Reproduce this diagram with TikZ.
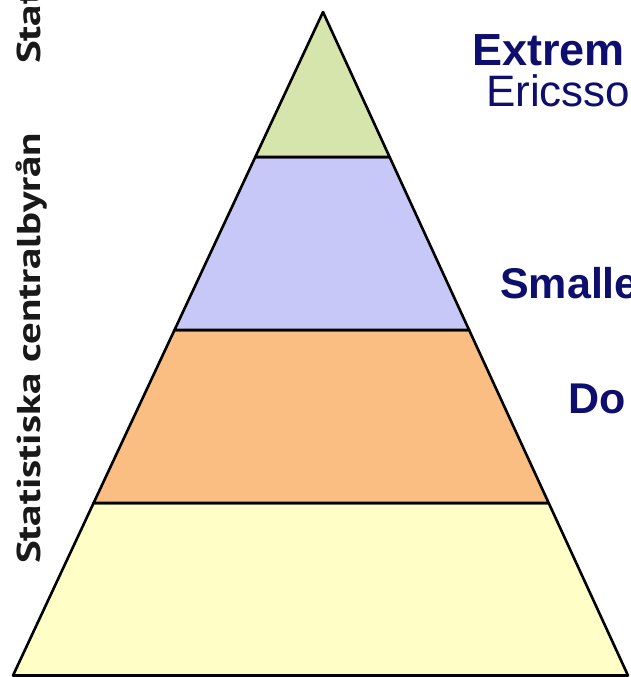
\documentclass[tikz,border=0pt]{standalone}
\usepackage{fontspec}
\setmainfont{Liberation Sans}
\newfontfamily\scbfont{PT Sans}
\definecolor{pyrgreen}{RGB}{214,229,171}
\definecolor{pyrpurple}{RGB}{200,200,248}
\definecolor{pyrorange}{RGB}{250,189,130}
\definecolor{pyryellow}{RGB}{254,254,198}
\definecolor{navytext}{RGB}{14,14,110}
\definecolor{scbgray}{RGB}{25,25,25}
\begin{document}
\begin{tikzpicture}[x=1pt,y=-1pt,
  layer/.style={draw=black,line width=2.6pt,line join=round},
  lab/.style={text=navytext,inner sep=0pt,anchor=base west},
  scb/.style={text=scbgray,inner sep=0pt,anchor=base west,rotate=90,font=\scbfont\bfseries\fontsize{33}{40}\selectfont}]
\clip (0,0) rectangle (630,677);
\fill[white] (0,0) rectangle (630,677);
\coordinate (apex) at (323,12);
\coordinate (l1) at (255.3,157); \coordinate (r1) at (389.6,157);
\coordinate (l2) at (174.5,330); \coordinate (r2) at (469.1,330);
\coordinate (l3) at (93.6,503);  \coordinate (r3) at (548.7,503);
\coordinate (l4) at (13,675.5);  \coordinate (r4) at (628,675.5);
\filldraw[layer,fill=pyryellow] (l3) -- (r3) -- (r4) -- (l4) -- cycle;
\filldraw[layer,fill=pyrorange] (l2) -- (r2) -- (r3) -- (l3) -- cycle;
\filldraw[layer,fill=pyrpurple] (l1) -- (r1) -- (r2) -- (l2) -- cycle;
\filldraw[layer,fill=pyrgreen] (apex) -- (r1) -- (l1) -- cycle;
\node[lab,font=\fontsize{45}{50}\selectfont\bfseries] (extrem) at (472,66) {Extrem};
\node[lab,font=\fontsize{44}{50}\selectfont] (ericsson) at (486,106) {Ericsso};
\node[lab,font=\fontsize{43}{48}\selectfont\bfseries] (smaller) at (500,298) {Smalle};
\node[lab,font=\fontsize{43}{48}\selectfont\bfseries] (do) at (568,413) {Do};
\node[scb] (scb1) at (40,564) {\scalebox{1.3}[1]{Statistiska centralbyrån}};
\node[scb] (scb2) at (40,64) {\scalebox{1.3}[1]{Statistiska centralbyrån}};
\end{tikzpicture}
\end{document}
